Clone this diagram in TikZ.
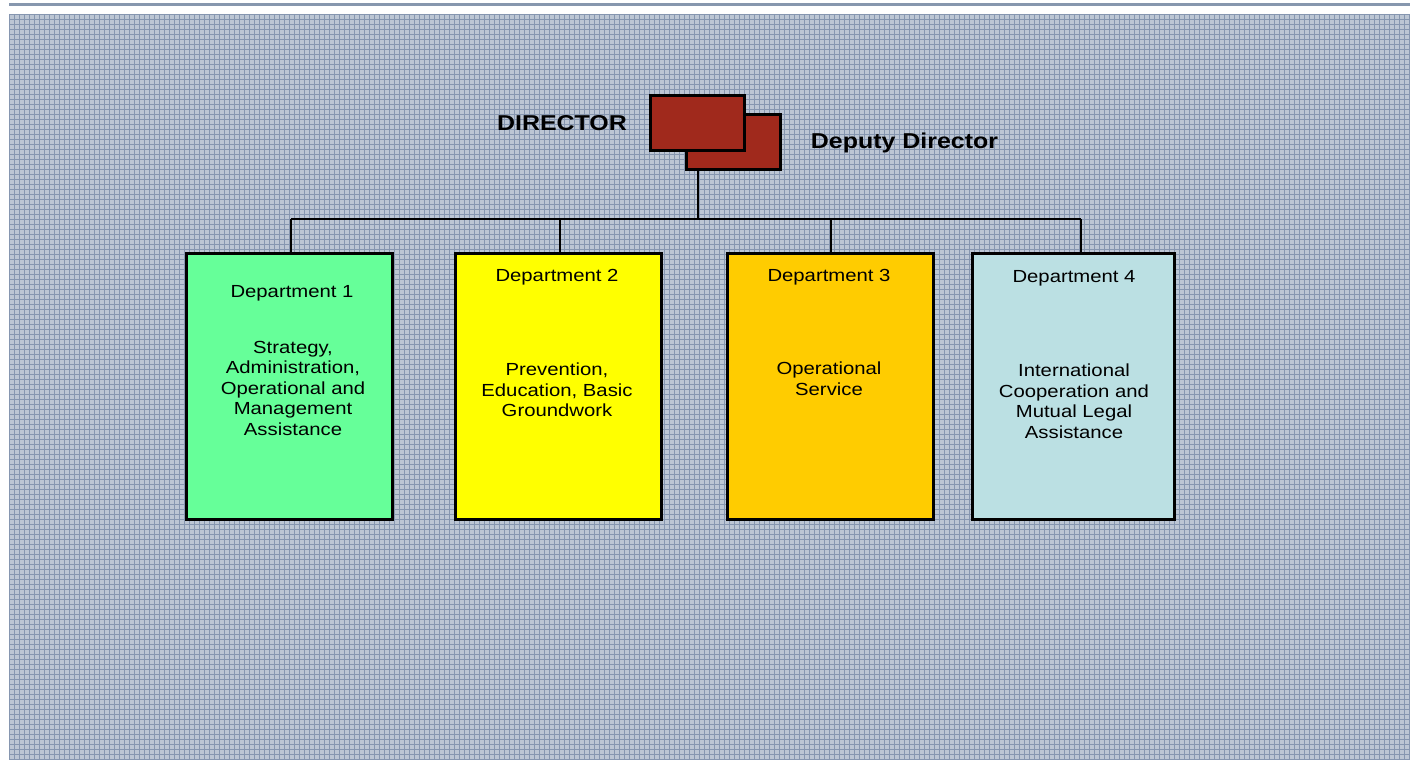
\documentclass[tikz,border=0pt]{standalone}
\usepackage{fontspec}
\setmainfont{Liberation Sans}[FakeStretch=1.16]
\definecolor{gridbg}{HTML}{BCC6D4}
\definecolor{gridln}{HTML}{8696B0}
\definecolor{topln}{HTML}{8797AE}
\definecolor{dirred}{HTML}{A0291C}
\definecolor{dgreen}{HTML}{66FF99}
\definecolor{dyellow}{HTML}{FFFF00}
\definecolor{dorange}{HTML}{FFCC00}
\definecolor{dblue}{HTML}{BBE0E3}
\tikzset{
  dirbox/.style={draw=black,line width=3.2pt,fill=dirred,minimum width=94pt,minimum height=55pt,inner sep=0pt},
  deptbox/.style={draw=black,line width=3.2pt,minimum width=206pt,minimum height=266pt,inner sep=0pt},
  biglabel/.style={inner sep=0pt,font=\bfseries\fontsize{21.5}{24}\selectfont},
  depttext/.style={inner sep=0pt,align=center,font=\fontsize{17.5}{20.5}\selectfont},
  conn/.style={draw=black,line width=1.4pt}
}
\begin{document}
\begin{tikzpicture}[x=1pt,y=-1pt]
\useasboundingbox (0,0) rectangle (1410,760);
% top rule
\draw[topln,line width=3pt] (9,5) -- (1410,5);
% grid background
\fill[gridbg] (9,14) rectangle (1410,760);
\foreach \x in {9,14,...,1409} \draw[gridln,line width=0.6pt] (\x,14) -- (\x,760);
\foreach \y in {14,19,...,759} \draw[gridln,line width=0.6pt] (9,\y) -- (1410,\y);
% director boxes
\node[dirbox] (deputy) at (733.5,142) {};
\node[dirbox] (director) at (697.5,123) {};
\node[biglabel] (dirlabel) at (562,123) {DIRECTOR};
\node[biglabel] (deplabel) at (904.5,143) {Deputy Director};
% departments
\node[deptbox,fill=dgreen] (d1) at (289.5,386.5) {};
\node[deptbox,fill=dyellow] (d2) at (558.5,386.5) {};
\node[deptbox,fill=dorange] (d3) at (830.5,386.5) {};
\node[deptbox,fill=dblue,minimum width=202pt] (d4) at (1073.5,386.5) {};
% connectors
\coordinate (hub) at (698,219);
\coordinate (b1) at (291,219);
\coordinate (b2) at (560,219);
\coordinate (b3) at (831,219);
\coordinate (b4) at (1081,219);
\draw[conn] (deputy.south -| hub) -- (hub);
\draw[conn] (b1) -- (b4);
\draw[conn] (b1) -- (b1 |- d1.north);
\draw[conn] (b2) -- (b2 |- d2.north);
\draw[conn] (b3) -- (b3 |- d3.north);
\draw[conn] (b4) -- (b4 |- d4.north);
% texts
\node[depttext] (t1a) at (292,293) {Department 1};
\node[depttext] (t1b) at (293,388) {Strategy,\\Administration,\\Operational and\\Management\\Assistance};
\node[depttext] (t2a) at (557,277) {Department 2};
\node[depttext] (t2b) at (557,390) {Prevention,\\Education, Basic\\Groundwork};
\node[depttext] (t3a) at (829,277) {Department 3};
\node[depttext] (t3b) at (829,378.5) {Operational\\Service};
\node[depttext] (t4a) at (1074,278) {Department 4};
\node[depttext] (t4b) at (1074,401) {International\\Cooperation and\\Mutual Legal\\Assistance};
\end{tikzpicture}
\end{document}
